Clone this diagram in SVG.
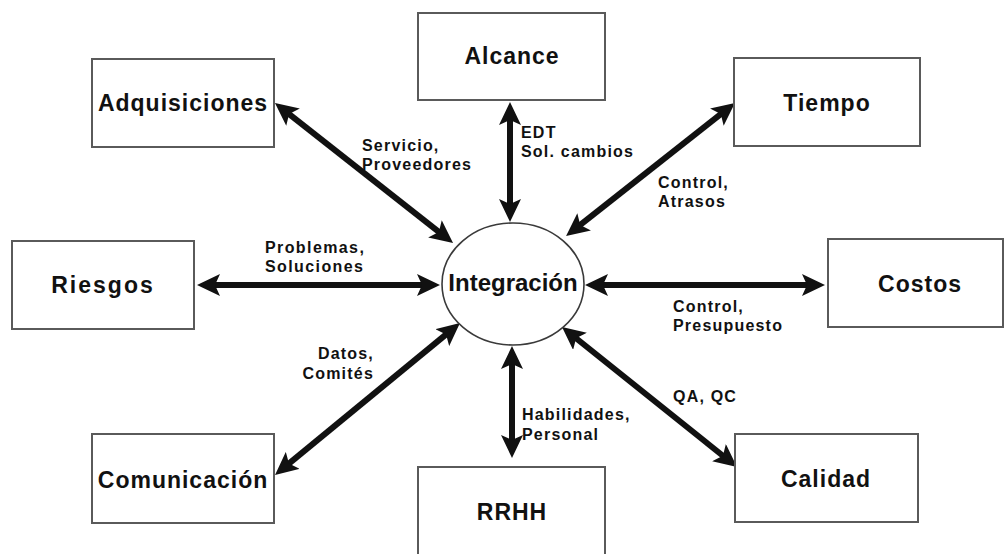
<svg xmlns="http://www.w3.org/2000/svg" width="1005" height="554" viewBox="0 0 1005 554">
  <style>
    .box { fill: #ffffff; stroke: #5a5a5a; stroke-width: 2; }
    .hub { fill: #ffffff; stroke: #3a3a3a; stroke-width: 1.6; }
    .name { font-family: "Liberation Sans", Arial, sans-serif; font-weight: bold; font-size: 23px; letter-spacing: 1px; fill: #111; text-anchor: middle; }
    .hubname { font-family: "Liberation Sans", Arial, sans-serif; font-weight: bold; font-size: 24px; fill: #111; text-anchor: middle; }
    .lbl { font-family: "Liberation Sans", Arial, sans-serif; font-weight: bold; font-size: 16px; letter-spacing: 1.2px; fill: #111; }
    .link { stroke: #111; stroke-width: 6; fill: none; marker-start: url(#head); marker-end: url(#head); }
  </style>
  <defs>
    <marker id="head" markerUnits="userSpaceOnUse" markerWidth="24" markerHeight="22" viewBox="0 0 24 22" refX="11" refY="11" orient="auto-start-reverse">
      <path d="M0,0 L23,11 L0,22 L5,11 Z" fill="#111"/>
    </marker>
  </defs>

  <!-- connectors: every knowledge area exchanges with the central integration process -->
  <g id="connectors">
    <line class="link" x1="284.4" y1="110.4" x2="443.6" y2="235.6"/>
    <line class="link" x1="510" y1="114" x2="510" y2="210"/>
    <line class="link" x1="725.5" y1="110.4" x2="575.5" y2="228.6"/>
    <line class="link" x1="209" y1="285" x2="428" y2="285"/>
    <line class="link" x1="597" y1="285" x2="813" y2="285"/>
    <line class="link" x1="284.3" y1="467.4" x2="450.7" y2="330.6"/>
    <line class="link" x1="512" y1="358" x2="512" y2="446"/>
    <line class="link" x1="571.4" y1="334.5" x2="727.6" y2="459.5"/>
  </g>

  <!-- connector labels -->
  <g id="labels">
    <text class="lbl" x="362" y="151">Servicio,</text>
    <text class="lbl" x="362" y="170">Proveedores</text>
    <text class="lbl" x="521" y="138">EDT</text>
    <text class="lbl" x="521" y="157">Sol. cambios</text>
    <text class="lbl" x="658" y="188">Control,</text>
    <text class="lbl" x="658" y="207">Atrasos</text>
    <text class="lbl" x="265" y="253" style="letter-spacing:1.4px">Problemas,</text>
    <text class="lbl" x="265" y="272" style="letter-spacing:1.4px">Soluciones</text>
    <text class="lbl" x="673" y="312">Control,</text>
    <text class="lbl" x="673" y="331">Presupuesto</text>
    <text class="lbl" x="374" y="359" text-anchor="end">Datos,</text>
    <text class="lbl" x="374" y="379" text-anchor="end">Comités</text>
    <text class="lbl" x="673" y="402">QA, QC</text>
    <text class="lbl" x="522" y="420">Habilidades,</text>
    <text class="lbl" x="522" y="440">Personal</text>
  </g>

  <g id="adquisiciones">
    <rect class="box" x="92" y="59" width="182" height="88"/>
    <text class="name" x="183" y="111">Adquisiciones</text>
  </g>
  <g id="alcance">
    <rect class="box" x="418" y="13" width="187" height="87"/>
    <text class="name" x="512" y="64">Alcance</text>
  </g>
  <g id="tiempo">
    <rect class="box" x="734" y="58" width="186" height="88"/>
    <text class="name" x="827" y="111">Tiempo</text>
  </g>
  <g id="riesgos">
    <rect class="box" x="12" y="241" width="182" height="88"/>
    <text class="name" x="103" y="293" style="letter-spacing:2px">Riesgos</text>
  </g>
  <g id="integracion">
    <ellipse class="hub" cx="513" cy="284" rx="71" ry="61"/>
    <text class="hubname" x="513" y="291">Integración</text>
  </g>
  <g id="costos">
    <rect class="box" x="828" y="239" width="175" height="88"/>
    <text class="name" x="920" y="292">Costos</text>
  </g>
  <g id="comunicacion">
    <rect class="box" x="92" y="434" width="182" height="89"/>
    <text class="name" x="183" y="488">Comunicación</text>
  </g>
  <g id="rrhh">
    <rect class="box" x="418" y="467" width="187" height="100"/>
    <text class="name" x="512" y="520">RRHH</text>
  </g>
  <g id="calidad">
    <rect class="box" x="735" y="434" width="183" height="88"/>
    <text class="name" x="826" y="487">Calidad</text>
  </g>
</svg>
